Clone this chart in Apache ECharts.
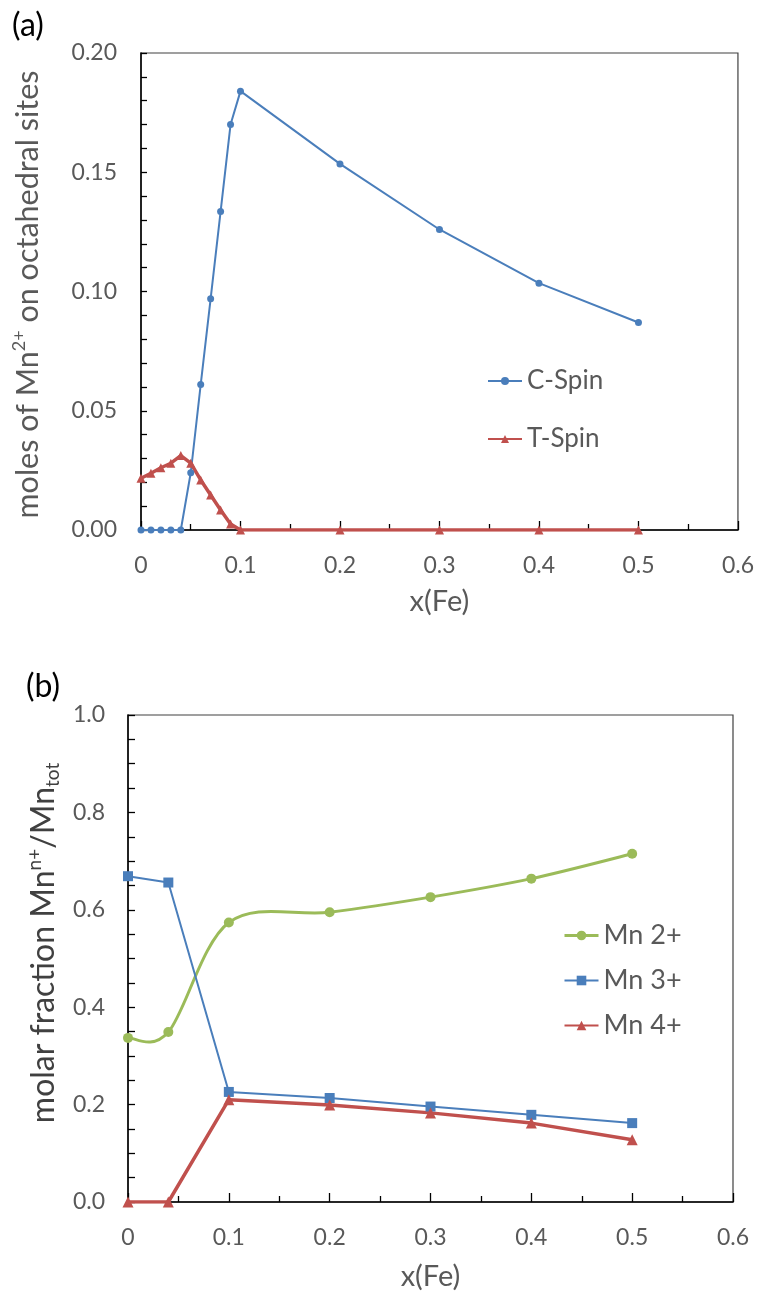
<!DOCTYPE html>
<html>
<head>
<meta charset="utf-8">
<script src="https://cdn.jsdelivr.net/npm/echarts@6/dist/echarts.min.js"></script>
<style>
  html, body { margin: 0; padding: 0; background: #ffffff; }
  #chart { width: 757px; height: 1293px; }
</style>
</head>
<body>
<div id="chart"></div>
<script>
// Panel (a): Mn2+ on octahedral sites vs. Fe content
const xFeA = [0, 0.01, 0.02, 0.03, 0.04, 0.05, 0.06, 0.07, 0.08, 0.09, 0.1, 0.2, 0.3, 0.4, 0.5];
const cSpin = [0, 0, 0, 0, 0, 0.024, 0.061, 0.097, 0.1335, 0.170, 0.184, 0.1535, 0.126, 0.1035, 0.087];
const tSpin = [0.0217, 0.0238, 0.0261, 0.028, 0.0312, 0.028, 0.021, 0.0147, 0.0084, 0.0025, 0, 0, 0, 0, 0];

// Panel (b): molar fractions of Mn oxidation states
const xFeB = [0, 0.04, 0.1, 0.2, 0.3, 0.4, 0.5];
const mn2 = [0.337, 0.349, 0.574, 0.595, 0.626, 0.664, 0.715];
const mn3 = [0.669, 0.656, 0.226, 0.2135, 0.196, 0.179, 0.162];
const mn4 = [0, 0, 0.21, 0.199, 0.183, 0.162, 0.128];

// Tick labels
const xTickLabels = ['0', '0.1', '0.2', '0.3', '0.4', '0.5', '0.6'];
const yTickLabelsA = ['0.00', '0.05', '0.10', '0.15', '0.20'];
const yTickLabelsB = ['0.0', '0.2', '0.4', '0.6', '0.8', '1.0'];

const FONT = 'Lato, "Open Sans", sans-serif';
const GREY = '#595959';
const DARK = '#404040';
const BLUE = '#4a7ebb';
const RED = '#c0504d';
const GREEN = '#9bbb59';

const pairs = (xs, ys) => xs.map((x, i) => [x, ys[i]]);

// Catmull-Rom style smoothed path through pixel points (spreadsheet-like smoothing)
function smoothPath(pts) {
  let d = 'M' + pts[0][0] + ',' + pts[0][1];
  for (let i = 0; i < pts.length - 1; i++) {
    const p0 = pts[i - 1] || pts[i];
    const p1 = pts[i];
    const p2 = pts[i + 1];
    const p3 = pts[i + 2] || p2;
    const c1x = p1[0] + (p2[0] - p0[0]) / 6, c1y = p1[1] + (p2[1] - p0[1]) / 6;
    const c2x = p2[0] - (p3[0] - p1[0]) / 6, c2y = p2[1] - (p3[1] - p1[1]) / 6;
    d += 'C' + c1x + ',' + c1y + ',' + c2x + ',' + c2y + ',' + p2[0] + ',' + p2[1];
  }
  return d;
}

function xAxisFor(gridIndex, gap) {
  return {
    type: 'value', gridIndex: gridIndex, min: 0, max: 0.6, interval: 0.1,
    name: 'x(Fe)', nameLocation: 'middle', nameGap: gap,
    nameTextStyle: { fontFamily: FONT, fontSize: 29, color: GREY },
    axisLine: { show: true, onZero: false, lineStyle: { color: '#000', width: 1.5 } },
    axisTick: { show: true, inside: true, length: 9, lineStyle: { color: '#000', width: 1.3 } },
    minorTick: { show: true, splitNumber: 2, length: 6, lineStyle: { color: '#000', width: 1.3 } },
    axisLabel: {
      fontFamily: FONT, fontSize: 23, color: GREY, margin: 24,
      formatter: v => xTickLabels[Math.round(v / 0.1)]
    },
    splitLine: { show: false }
  };
}

const option = {
  backgroundColor: '#ffffff',
  animation: false,
  graphic: [
    { type: 'text', left: 12, top: 10, style: { text: '(a)', fontFamily: FONT, fontSize: 32, fill: '#000' } },
    { type: 'text', left: 26, top: 671, style: { text: '(b)', fontFamily: FONT, fontSize: 32, fill: '#000' } }
  ],
  grid: [
    { left: 141, top: 53, width: 597, height: 477, show: true, borderColor: DARK, borderWidth: 1.2, backgroundColor: 'transparent' },
    { left: 128, top: 715, width: 605, height: 487, show: true, borderColor: DARK, borderWidth: 1.2, backgroundColor: 'transparent' }
  ],
  legend: [
    {
      data: ['C-Spin', 'T-Spin'], orient: 'vertical', left: 482, top: 363,
      itemWidth: 34, itemHeight: 10, itemGap: 32,
      textStyle: { fontFamily: FONT, fontSize: 26, color: GREY }
    },
    {
      data: [
        { name: 'Mn 2+', lineStyle: { color: GREEN, width: 3, opacity: 1 } },
        { name: 'Mn 3+' },
        { name: 'Mn 4+' }
      ],
      orient: 'vertical', left: 558, top: 917,
      itemWidth: 34, itemHeight: 12, itemGap: 18,
      textStyle: { fontFamily: FONT, fontSize: 27, color: GREY }
    }
  ],
  xAxis: [xAxisFor(0, 57), xAxisFor(1, 60)],
  yAxis: [
    {
      type: 'value', gridIndex: 0, min: 0, max: 0.2, interval: 0.05,
      name: '{n|moles of Mn}{sup|2+}{n| on octahedral sites}',
      nameLocation: 'middle', nameGap: 95,
      nameTextStyle: {
        color: GREY, padding: [0, 6, 0, 0],
        rich: {
          n: { fontFamily: FONT, fontSize: 30.5, color: GREY, lineHeight: 36 },
          sup: { fontFamily: FONT, fontSize: 18, color: GREY, lineHeight: 19, verticalAlign: 'top' }
        }
      },
      axisLine: { show: true, onZero: false, lineStyle: { color: '#000', width: 1.5 } },
      axisTick: { show: true, inside: true, length: 6, lineStyle: { color: '#000', width: 1.3 } },
      minorTick: { show: true, splitNumber: 5, length: 6, lineStyle: { color: '#000', width: 1.3 } },
      axisLabel: {
        fontFamily: FONT, fontSize: 23, color: GREY, margin: 24,
        formatter: v => yTickLabelsA[Math.round(v / 0.05)]
      },
      splitLine: { show: false }
    },
    {
      type: 'value', gridIndex: 1, min: 0, max: 1.0, interval: 0.2,
      name: '{n|molar fraction Mn}{sup|n+}{n|/Mn}{sub|tot}',
      nameLocation: 'middle', nameGap: 66,
      nameTextStyle: {
        color: DARK, padding: [0, 0, 0, 31],
        rich: {
          n: { fontFamily: FONT, fontSize: 32, color: DARK, lineHeight: 37 },
          sup: { fontFamily: FONT, fontSize: 19, color: DARK, lineHeight: 20, verticalAlign: 'top' },
          sub: { fontFamily: FONT, fontSize: 19, color: DARK, lineHeight: 17, verticalAlign: 'bottom' }
        }
      },
      axisLine: { show: true, onZero: false, lineStyle: { color: '#000', width: 1.5 } },
      axisTick: { show: true, inside: true, length: 7, lineStyle: { color: '#000', width: 1.3 } },
      minorTick: { show: true, splitNumber: 4, length: 7, lineStyle: { color: '#000', width: 1.3 } },
      axisLabel: {
        fontFamily: FONT, fontSize: 23, color: GREY, margin: 23,
        formatter: v => yTickLabelsB[Math.round(v / 0.2)]
      },
      splitLine: { show: false }
    }
  ],
  series: [
    {
      name: 'C-Spin', type: 'line', xAxisIndex: 0, yAxisIndex: 0,
      data: pairs(xFeA, cSpin),
      symbol: 'circle', symbolSize: 7,
      lineStyle: { color: BLUE, width: 2 },
      itemStyle: { color: BLUE }
    },
    {
      name: 'T-Spin', type: 'line', xAxisIndex: 0, yAxisIndex: 0,
      data: pairs(xFeA, tSpin),
      symbol: 'triangle', symbolSize: 9,
      lineStyle: { color: RED, width: 3.5 },
      itemStyle: { color: RED }
    },
    {
      // smoothed curve for Mn 2+, drawn once through the axis scales
      type: 'custom', xAxisIndex: 1, yAxisIndex: 1,
      data: pairs(xFeB, mn2),
      encode: { x: 0, y: 1 },
      silent: true,
      renderItem: function (params, api) {
        if (params.dataIndex !== 0) return null;
        const pts = xFeB.map((x, i) => api.coord([x, mn2[i]]));
        return {
          type: 'path',
          shape: { pathData: smoothPath(pts) },
          style: { stroke: GREEN, lineWidth: 3, fill: null, lineJoin: 'round' }
        };
      }
    },
    {
      name: 'Mn 2+', type: 'line', xAxisIndex: 1, yAxisIndex: 1,
      data: pairs(xFeB, mn2),
      symbol: 'circle', symbolSize: 10,
      lineStyle: { color: GREEN, width: 3, opacity: 0 },
      itemStyle: { color: GREEN }
    },
    {
      name: 'Mn 3+', type: 'line', xAxisIndex: 1, yAxisIndex: 1,
      data: pairs(xFeB, mn3),
      symbol: 'rect', symbolSize: 10,
      lineStyle: { color: BLUE, width: 2 },
      itemStyle: { color: BLUE }
    },
    {
      name: 'Mn 4+', type: 'line', xAxisIndex: 1, yAxisIndex: 1,
      data: pairs(xFeB, mn4),
      symbol: 'triangle', symbolSize: 11,
      lineStyle: { color: RED, width: 3.5 },
      itemStyle: { color: RED }
    }
  ]
};

const chart = echarts.init(document.getElementById('chart'), null, { renderer: 'canvas' });
chart.setOption(option);
</script>
</body>
</html>
